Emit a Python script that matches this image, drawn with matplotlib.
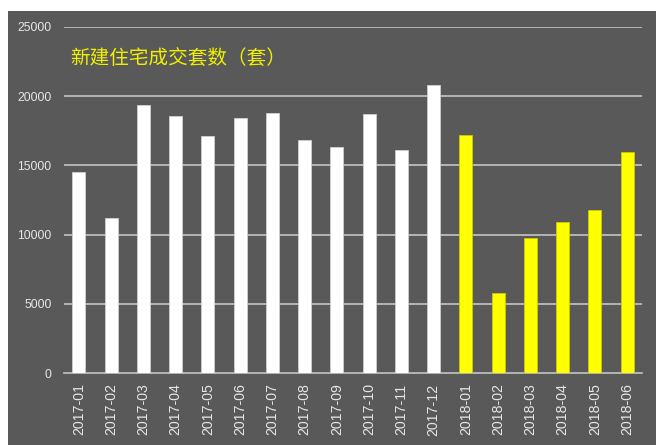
import matplotlib
matplotlib.use('Agg')
import matplotlib.pyplot as plt
from matplotlib.patches import Rectangle

months = ['2017-01', '2017-02', '2017-03', '2017-04', '2017-05', '2017-06',
          '2017-07', '2017-08', '2017-09', '2017-10', '2017-11', '2017-12',
          '2018-01', '2018-02', '2018-03', '2018-04', '2018-05', '2018-06']
deals = [14500, 11200, 19400, 18600, 17100, 18400,
         18800, 16800, 16300, 18700, 16100, 20800,
         17200, 5800, 9750, 10900, 11800, 16000]
yticks = [0, 5000, 10000, 15000, 20000, 25000]
title = '新建住宅成交套数（套）'

bg = '#595959'
grid_c = '#c4c4c4'

fig = plt.figure(figsize=(6.56, 4.45), dpi=100, facecolor='white')
# тёмная подложка под весь график
fig.patches.append(Rectangle((8 / 656, 0), 648 / 656, 434 / 445,
                             transform=fig.transFigure, facecolor=bg,
                             edgecolor='none', zorder=-10))

ax = fig.add_axes([64 / 656, 72 / 445, 578 / 656, 346 / 445])
ax.set_facecolor('none')

# 2017 — белые столбцы, 2018 — жёлтые
colors = ['white' if m.startswith('2017') else '#ffff00' for m in months]
edges = ['#cfcfcf' if m.startswith('2017') else '#cccc00' for m in months]
x = list(range(len(months)))
ax.bar(x, deals, width=0.4, color=colors, edgecolor=edges, linewidth=0.6, zorder=3)

ax.set_xlim(-0.46, 17.46)
ax.set_ylim(0, 25000)
ax.set_yticks(yticks)
ax.set_yticklabels([str(v) for v in yticks])
ax.set_xticks(x)
ax.set_xticklabels(months, rotation=90, va='top', ha='center')

for v in yticks[1:]:
    ax.axhline(v, color=grid_c, linewidth=1.2, zorder=1)

for s in ['top', 'right', 'left']:
    ax.spines[s].set_visible(False)
ax.spines['bottom'].set_color(grid_c)
ax.spines['bottom'].set_linewidth(1.2)
ax.spines['bottom'].set_zorder(2)

ax.tick_params(axis='both', length=0, colors='#e6e6e6')
ax.tick_params(axis='y', pad=9)
ax.tick_params(axis='x', pad=7.5)
for lab in ax.get_yticklabels():
    lab.set_fontfamily('Liberation Sans')
    lab.set_fontsize(8.8)
for lab in ax.get_xticklabels():
    lab.set_fontfamily('Liberation Sans')
    lab.set_fontsize(10.2)

fig.text(70 / 656, 1 - 58 / 445, title, color='#f0f000', fontsize=14.1,
         family=['Noto Sans CJK SC', 'DejaVu Sans'], va='center', ha='left')

plt.savefig('out.png', dpi=100, facecolor='white')
